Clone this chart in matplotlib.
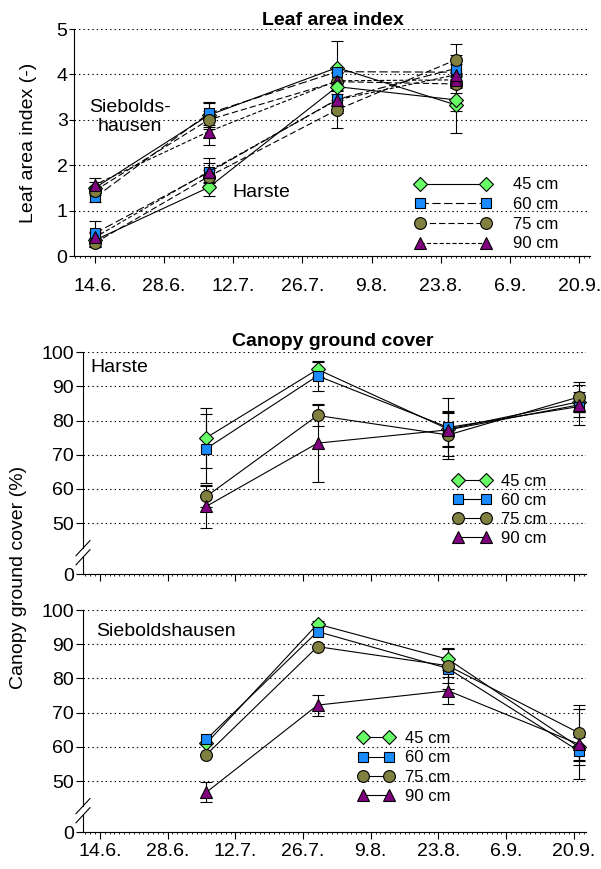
import numpy as np
import matplotlib
matplotlib.use('Agg')
import matplotlib.pyplot as plt
from matplotlib.ticker import FixedLocator, MultipleLocator

plt.rcParams['font.family'] = ['Liberation Sans', 'DejaVu Sans']
plt.rcParams['lines.scale_dashes'] = False

# x axis: days after 14 June
date_ticks = [0, 14, 28, 42, 56, 70, 84, 98]
date_labels = ['14.6.', '28.6.', '12.7.', '26.7.', '9.8.', '23.8.', '6.9.', '20.9.']
spacings = ['45 cm', '60 cm', '75 cm', '90 cm']

# Leaf area index, rows = 45, 60, 75, 90 cm
lai_days = [0, 23, 49, 73]
lai_siebolds = [[1.50, 3.10, 4.15, 3.33],
                [1.29, 3.14, 4.06, 4.05],
                [1.44, 3.00, 3.84, 3.79],
                [1.57, 2.74, 3.86, 3.88]]
lai_siebolds_sd = [[0.12, 0.26, 0.59, 0.61],
                   [0.10, 0.26, np.nan, np.nan],
                   [0.10, 0.20, np.nan, 0.20],
                   [0.15, 0.29, 0.20, 0.15]]
lai_harste = [[0.35, 1.51, 3.73, 3.44],
              [0.50, 1.84, 3.45, 4.13],
              [0.29, 1.75, 3.22, 4.32],
              [0.41, 1.86, 3.44, 3.99]]
lai_harste_sd = [[0.15, 0.19, 0.30, 0.25],
                 [0.28, 0.21, 0.30, 0.30],
                 [0.10, 0.15, 0.41, 0.36],
                 [0.12, 0.29, 0.30, 0.25]]

# Canopy ground cover (%)
cover_days = [22, 45, 72, 99]
cover_harste = [[75.0, 95.0, 77.5, 85.5],
                [71.8, 93.1, 78.0, 84.1],
                [57.8, 81.5, 75.8, 86.9],
                [54.9, 73.4, 77.3, 84.6]]
cover_harste_sd = [[8.8, 2.2, 5.0, 3.0],
                   [10.0, 4.4, 8.5, 3.0],
                   [3.2, 3.1, 7.0, 4.5],
                   [6.2, 11.5, 5.0, 5.8]]
cover_siebolds = [[61.0, 95.9, 85.6, 60.0],
                  [62.2, 93.7, 82.9, 58.8],
                  [57.7, 89.3, 83.7, 64.1],
                  [46.7, 72.2, 76.4, 60.8]]
cover_siebolds_sd = [[np.nan, 1.0, 3.0, 4.0],
                     [np.nan, np.nan, 5.9, 4.0],
                     [np.nan, np.nan, 5.0, 8.0],
                     [2.9, 3.1, 4.0, 10.3]]

markers = ['D', 's', 'o', '^']
msizes = [7, 7, 8.5, 8.5]
colors = ['#66ff66', '#1a8cff', '#808040', '#800080']
lai_dashes = [(None, None), (0, (6, 2.5)), (0, (4.5, 2.2)), (0, (3, 1.6))]

AXIS_BREAK = 35  # "0" on the broken axis


def draw_series(ax, days, values, sds, dashed, label):
    for i in range(4):
        ax.errorbar(days, values[i], yerr=sds[i], fmt='none', ecolor='black',
                    elinewidth=0.8, capsize=4, capthick=0.8, zorder=2)
    for i in range(4):
        ls = '-' if (not dashed or i == 0) else lai_dashes[i]
        ax.plot(days, values[i], color='black', lw=0.8, linestyle=ls,
                marker=markers[i], markersize=msizes[i], markerfacecolor=colors[i],
                markeredgecolor='black', markeredgewidth=0.8,
                label=spacings[i] if label else None, zorder=3)


def style_axes(ax, xlim, label_pad):
    ax.set_xlim(*xlim)
    ax.spines['top'].set_visible(False)
    ax.spines['right'].set_visible(False)
    ax.xaxis.set_major_locator(FixedLocator(date_ticks))
    ax.xaxis.set_minor_locator(MultipleLocator(1))
    ax.yaxis.grid(True, linestyle=(0, (1, 2.2)), color='black', lw=0.8)
    ax.set_axisbelow(False)
    ax.tick_params(axis='x', which='major', length=5, width=0.8, pad=label_pad, labelsize=14)
    ax.tick_params(axis='x', which='minor', length=1.5, width=0.6)
    ax.tick_params(axis='y', which='major', width=0.8, labelsize=14)
    for s in ax.spines.values():
        s.set_linewidth(0.8)


def broken_axis(ax):
    ax.set_ylim(AXIS_BREAK, 100)
    ax.set_yticks([AXIS_BREAK, 50, 60, 70, 80, 90, 100])
    ax.set_yticklabels(['0', '50', '60', '70', '80', '90', '100'])
    ax.tick_params(axis='y', length=5, pad=1.5)
    ax.spines['left'].set_visible(False)
    kw = dict(transform=ax.transAxes, color='black', lw=0.8, clip_on=False)
    ax.plot([0, 0], [0, 0.077], **kw)
    ax.plot([0, 0], [0.118, 1], **kw)
    for y in (0.077, 0.118):
        ax.plot([-0.0139, 0.0139], [y - 0.034, y + 0.034], **kw)


fig = plt.figure(figsize=(6.01, 8.69), dpi=100)

# Leaf area index
ax1 = fig.add_axes([0.1231, 0.7054, 0.8586, 0.2612])
draw_series(ax1, lai_days, lai_siebolds, lai_siebolds_sd, True, True)
draw_series(ax1, lai_days, lai_harste, lai_harste_sd, True, False)
style_axes(ax1, (-4.24, 100.2), 10.5)
ax1.set_ylim(0, 5)
ax1.set_yticks([0, 1, 2, 3, 4, 5])
ax1.tick_params(axis='y', length=3.6, pad=1)
ax1.set_xticklabels(date_labels)
ax1.text(7.1, 3.07, 'Siebolds-\nhausen', ha='center', va='center', fontsize=14,
         linespacing=1.15)
ax1.text(33.6, 1.39, 'Harste', ha='center', va='center', fontsize=14)
ax1.legend(loc='center left', bbox_to_anchor=(0.661, 0.183), frameon=False,
           fontsize=12, handlelength=4.55, handletextpad=1.3, labelspacing=0.28,
           borderpad=0, borderaxespad=0, numpoints=2)

# Canopy ground cover - Harste
ax2 = fig.add_axes([0.1381, 0.3391, 0.8369, 0.2555])
draw_series(ax2, cover_days, cover_harste, cover_harste_sd, False, True)
style_axes(ax2, (-3.5, 100.5), 5)
broken_axis(ax2)
ax2.set_xticklabels([])
ax2.text(0.0153, 0.93, 'Harste', transform=ax2.transAxes, ha='left', va='center',
         fontsize=14)
ax2.legend(loc='center left', bbox_to_anchor=(0.736, 0.2896), frameon=False,
           fontsize=12, handlelength=2.26, handletextpad=0.58, labelspacing=0.24,
           borderpad=0, borderaxespad=0, numpoints=2)

# Canopy ground cover - Sieboldshausen
ax3 = fig.add_axes([0.1381, 0.0422, 0.8369, 0.2558])
draw_series(ax3, cover_days, cover_siebolds, cover_siebolds_sd, False, True)
style_axes(ax3, (-3.5, 100.5), 3)
broken_axis(ax3)
ax3.set_xticklabels(date_labels)
ax3.text(0.027, 0.902, 'Sieboldshausen', transform=ax3.transAxes, ha='left',
         va='center', fontsize=14)
ax3.legend(loc='center left', bbox_to_anchor=(0.546, 0.2915), frameon=False,
           fontsize=12, handlelength=2.2, handletextpad=0.64, labelspacing=0.25,
           borderpad=0, borderaxespad=0, numpoints=2)

fig.text(0.554, 0.9764, 'Leaf area index', ha='center', va='center',
         fontsize=14, fontweight='bold')
fig.text(0.554, 0.6068, 'Canopy ground cover', ha='center', va='center',
         fontsize=14, fontweight='bold')
fig.text(0.0474, 0.836, 'Leaf area index (-)', rotation=90, ha='center',
         va='center', fontsize=14)
fig.text(0.030, 0.3354, 'Canopy ground cover (%)', rotation=90, ha='center',
         va='center', fontsize=14)

fig.savefig('out.png', dpi=100)
